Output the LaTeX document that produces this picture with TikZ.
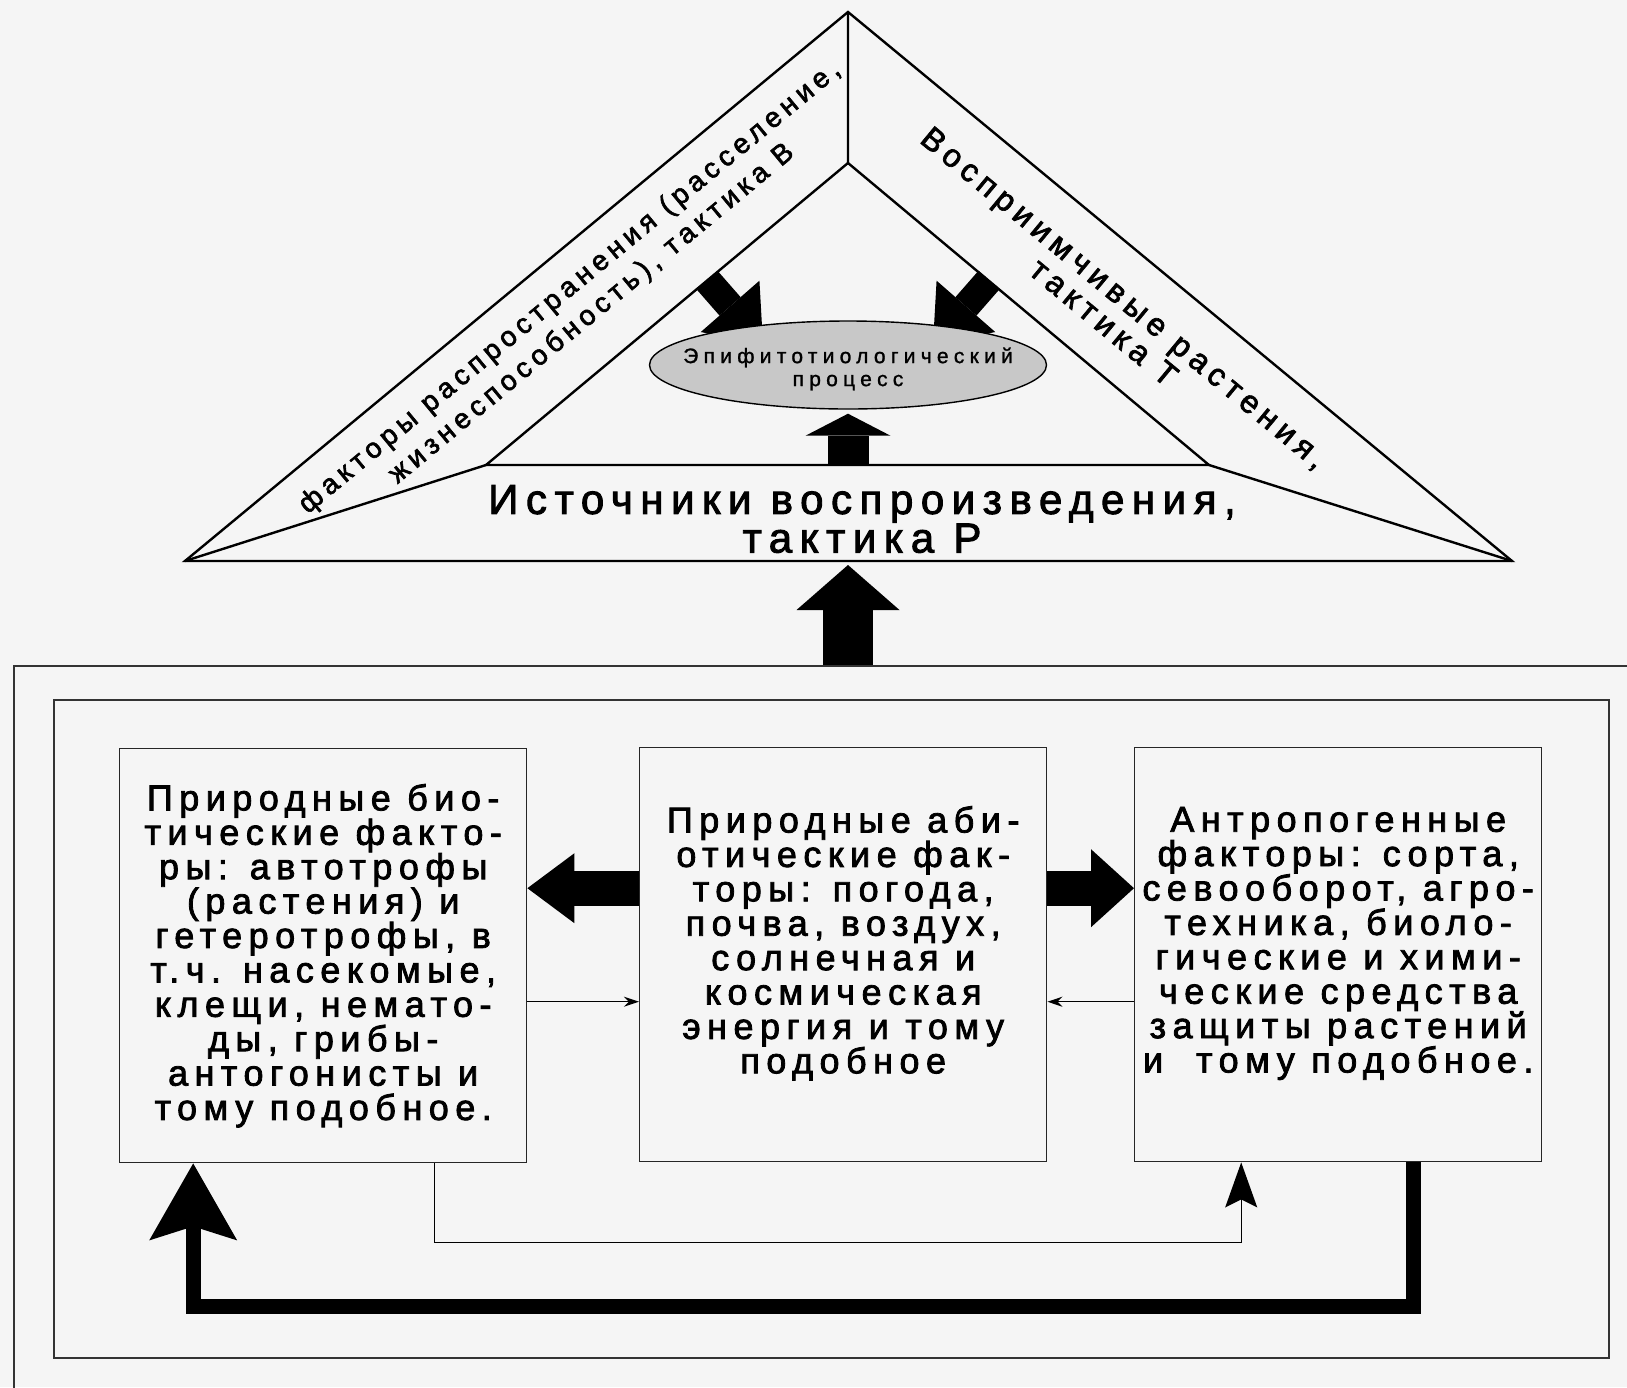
\documentclass[tikz,border=0pt]{standalone}
\usepackage{fontspec}
\setmainfont{Liberation Sans}
\newfontfamily\boxfont[LetterSpace=18, FakeBold=2.2]{Liberation Sans}
\newfontfamily\ovalfont[LetterSpace=25, FakeBold=1.2]{Liberation Sans}
\usetikzlibrary{arrows.meta}
\usetikzlibrary{shapes.geometric}
\definecolor{paper}{HTML}{F5F5F5}
\definecolor{ovalgray}{HTML}{C8C8C8}

\begin{document}
\begin{tikzpicture}[x=1pt, y=-1pt,
  edge/.style={line width=2.4pt},
  frame/.style={draw=black!80, line width=1.8pt, anchor=north west, inner sep=0pt},
  factor/.style={draw=black!85, line width=1.4pt, anchor=north west, minimum width=407pt, minimum height=414pt,
    inner sep=0pt, align=center, font={\boxfont\fontsize{36}{34.4}\selectfont}},
  fat/.style={line width=#1, line cap=butt},
  thinarrow/.style={line width=1.4pt, -{Stealth[length=15pt, width=10pt]}}
]
\useasboundingbox (0,0) rectangle (1627,1387);
\fill[paper] (0,0) rectangle (1627,1387);
\clip (0,0) rectangle (1627,1387);

% triangle
\coordinate (apex) at (848,12);
\coordinate (baseL) at (185,561);
\coordinate (baseR) at (1512,561);
\coordinate (base) at (848,561);
\coordinate (iapex) at (848,163);
\coordinate (iL) at (486,465);
\coordinate (iR) at (1209,465);
\coordinate (ibase) at (848,465);
\draw[edge] (baseL) -- (apex) -- (baseR) -- cycle;
\draw[edge] (iL) -- (iapex) -- (iR) -- cycle;
\draw[edge] (apex) -- (iapex) (baseL) -- (iL) (baseR) -- (iR);

\node[rotate=39.6, align=center, font={\boxfont\fontsize{28}{34}\selectfont}] (spread) at (581,301)
  {факторы распространения (расселение,\\жизнеспособность), тактика В};
\node[rotate=-39.6, align=center, font={\boxfont\fontsize{32}{32}\selectfont}] (host) at (1114,310)
  {Восприимчивые растения,\\тактика Т};
\node[align=center, font={\boxfont\fontsize{42}{34}\selectfont}] (source) at (862,519)
  {Источники воспроизведения,\\тактика Р};

% arrows into the process
\coordinate (lsrc) at (707,280);
\coordinate (ltip) at (763,344);
\coordinate (rsrc) at (989,280);
\coordinate (rtip) at (933,344);
\draw[fat=28pt, -{Triangle[length=50pt, width=78pt, line width=0pt]}] (lsrc) -- (ltip);
\draw[fat=28pt, -{Triangle[length=50pt, width=78pt, line width=0pt]}] (rsrc) -- (rtip);

\node[ellipse, draw, line width=1.4pt, fill=ovalgray, minimum width=397pt, minimum height=88pt] (proc) at (848,365) {};
\node[align=center, font={\ovalfont\fontsize{21}{23}\selectfont}] (proctext) at ([yshift=-4pt]proc.center) {Эпифитотиологический\\процесс};
\draw[fat=41pt, -{Triangle[length=22pt, width=85pt, line width=0pt]}] (ibase) -- ([yshift=-4pt]proc.south);

% environment
\node[frame, minimum width=1700pt, minimum height=800pt] (env) at (13,665) {};
\node[frame, minimum width=1555pt, minimum height=658pt] (field) at (53,699) {};
\draw[fat=50pt, -{Triangle[length=45pt, width=103pt, line width=0pt]}] (env.north -| apex) -- ([yshift=-4pt]base);

\node[factor] (bio) at (119,748) {Природные био-\\тические факто-\\ры: автотрофы\\(растения) и\\гетеротрофы, в\\т.ч. насекомые,\\клещи, немато-\\ды, грибы-\\антогонисты и\\тому подобное.};
\node[factor, text depth=30pt] (abio) at (639,747) {Природные аби-\\отические фак-\\торы: погода,\\почва, воздух,\\солнечная и\\космическая\\энергия и тому\\подобное};
\node[factor, text depth=30pt] (anthro) at (1134,747) {Антропогенные\\факторы: сорта,\\севооборот, агро-\\техника, биоло-\\гические и хими-\\ческие средства\\защиты растений\\и~ тому подобное.};

\draw[fat=35pt, -{Triangle[length=47pt, width=70pt, line width=0pt]}] ([yshift=66.5pt]abio.west) -- ([yshift=66.5pt]abio.west -| bio.east);
\draw[fat=35pt, -{Triangle[length=43pt, width=78pt, line width=0pt]}] ([yshift=66.5pt]abio.east) -- ([yshift=66.5pt]abio.east -| anthro.west);
\draw[thinarrow] ([yshift=-47pt]abio.west -| bio.east) -- ([yshift=-47pt]abio.west);
\draw[thinarrow] ([yshift=-47pt]abio.east -| anthro.west) -- ([yshift=-47pt]abio.east);

% feedback loops
\draw[line width=1.4pt, -{Stealth[length=45pt, width=32pt, inset=8pt]}] ([xshift=111pt]bio.south) -- ++(0,79) -| ([xshift=-97pt]anthro.south);
\draw[fat=15pt, -{Stealth[length=77pt, width=88pt, inset=14pt, line width=0pt]}] ([xshift=75pt]anthro.south) -- ++(0,144) -| ([xshift=-130pt]bio.south);
\end{tikzpicture}
\end{document}
